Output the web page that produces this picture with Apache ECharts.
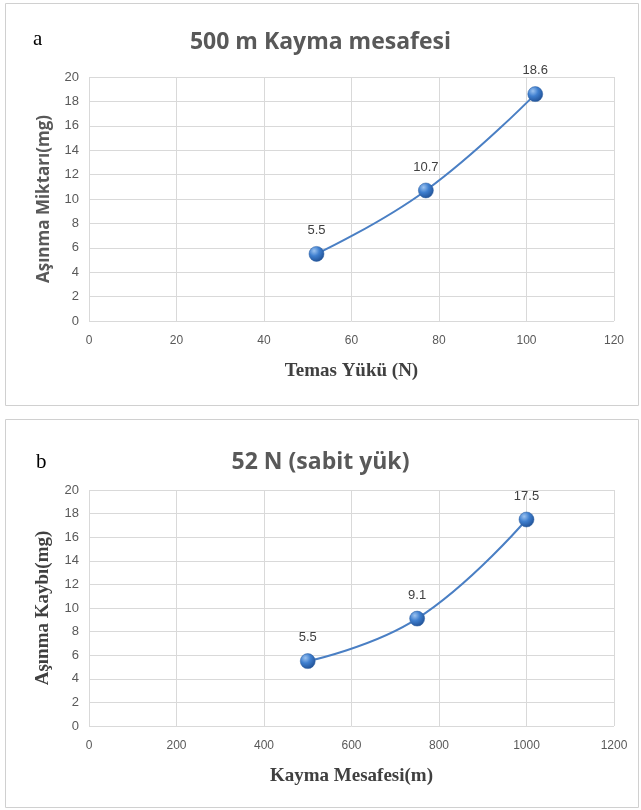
<!DOCTYPE html>
<html><head><meta charset="utf-8">
<script src="https://cdn.jsdelivr.net/npm/echarts@6/dist/echarts.min.js"></script>
<style>html,body{margin:0;padding:0;background:#fff}#c{width:641px;height:810px}</style>
</head><body><div id="c"></div>
<script>
const loadA = [52, 77, 102];
const wearA = [5.5, 10.7, 18.6];
const distB = [500, 750, 1000];
const wearB = [5.5, 9.1, 17.5];
const titleA = '500 m Kayma mesafesi';
const titleB = '52 N (sabit yük)';
const xNameA = 'Temas Yükü (N)';
const yNameA = 'Aşınma Miktarı(mg)';
const xNameB = 'Kayma Mesafesi(m)';
const yNameB = 'Aşınma Kaybı(mg)';

const chart = echarts.init(document.getElementById('c'), null, {renderer: 'canvas'});
const grey = '#595959';
const gridColor = '#d9d9d9';
function xAxis(idx, max, interval, name) {
  return {gridIndex: idx, type: 'value', min: 0, max: max, interval: interval,
    axisLine: {show: false}, axisTick: {show: false},
    splitLine: {show: true, lineStyle: {color: gridColor, width: 1}},
    axisLabel: {color: grey, fontSize: 12, fontFamily: 'Liberation Sans', margin: 14, formatter: v => String(v)},
    name: name, nameLocation: 'middle', nameGap: 41,
    nameTextStyle: {color: '#404040', fontSize: 19, fontWeight: 'bold', fontFamily: 'Liberation Serif'}};
}
function yAxis(idx, name, serif) {
  return {gridIndex: idx, type: 'value', min: 0, max: 20, interval: 2,
    axisLine: {show: false}, axisTick: {show: false},
    splitLine: {show: true, lineStyle: {color: gridColor, width: 1}},
    axisLabel: {color: grey, fontSize: 13, fontFamily: 'Liberation Sans', margin: 10},
    name: name, nameLocation: 'middle', nameGap: 36, nameRotate: 90,
    nameTextStyle: serif ? {color: '#404040', fontSize: 19, fontWeight: 'bold', fontFamily: 'Liberation Serif'}
                         : {color: grey, fontSize: 17, fontWeight: 'bold', fontFamily: 'Open Sans'}};
}
const marker = {
  color: new echarts.graphic.RadialGradient(0.35, 0.3, 0.75, [
    {offset: 0, color: '#9cc3f0'}, {offset: 0.45, color: '#3f7fcf'}, {offset: 1, color: '#1f4f93'}]),
  borderColor: '#2b5d9e', borderWidth: 0.5
};
function series(idx, xs, ys) {
  return {type: 'line', xAxisIndex: idx, yAxisIndex: idx, smooth: 0.45,
    data: xs.map((x, i) => [x, ys[i]]),
    symbol: 'circle', symbolSize: 15,
    lineStyle: {color: '#4a7fc4', width: 2},
    itemStyle: marker,
    label: {show: true, position: 'top', distance: 9, color: '#404040', fontSize: 13, fontFamily: 'Liberation Sans',
      formatter: p => p.value[1].toFixed(1)}};
}
chart.setOption({
  animation: false,
  graphic: [
    {type: 'rect', shape: {x: 5.5, y: 3.5, width: 633, height: 402}, style: {fill: 'none', stroke: '#d0d0d0', lineWidth: 1}},
    {type: 'rect', shape: {x: 5.5, y: 419.5, width: 633, height: 388}, style: {fill: 'none', stroke: '#d0d0d0', lineWidth: 1}},
    {type: 'text', left: 33, top: 29, style: {text: 'a', font: '21px "Liberation Serif"', fill: '#000'}},
    {type: 'text', left: 36, top: 452, style: {text: 'b', font: '21px "Liberation Serif"', fill: '#000'}}
  ],
  title: [
    {text: titleA, left: 'center', top: 26, textStyle: {color: grey, fontSize: 23, fontWeight: 'bold', fontFamily: 'Open Sans'}},
    {text: titleB, left: 'center', top: 446, textStyle: {color: grey, fontSize: 23, fontWeight: 'bold', fontFamily: 'Open Sans'}}
  ],
  grid: [
    {left: 89, right: 27, top: 77, bottom: 489},
    {left: 89, right: 27, top: 490, bottom: 84}
  ],
  xAxis: [xAxis(0, 120, 20, xNameA), xAxis(1, 1200, 200, xNameB)],
  yAxis: [yAxis(0, yNameA, false), yAxis(1, yNameB, true)],
  series: [series(0, loadA, wearA), series(1, distB, wearB)]
});
</script></body></html>
